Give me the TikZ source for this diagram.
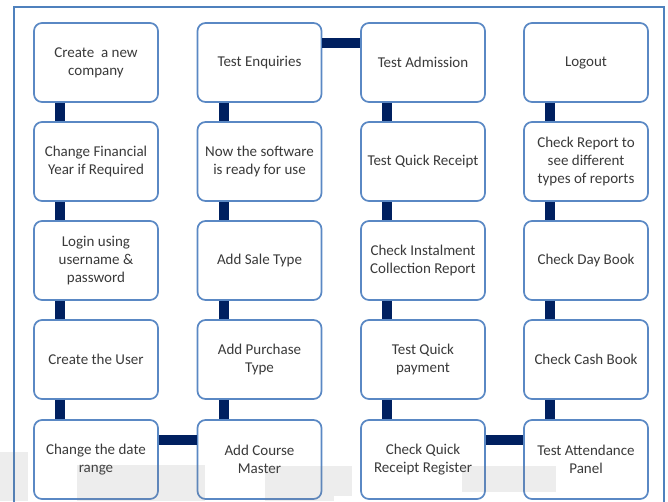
\documentclass[tikz,border=0pt]{standalone}
\usepackage{fontspec}
\setmainfont{Carlito}
\definecolor{navy}{RGB}{0,32,96}
\definecolor{boxline}{RGB}{90,136,196}
\definecolor{frameline}{RGB}{79,129,189}
\definecolor{txt}{RGB}{58,58,58}
\begin{document}
\begin{tikzpicture}[x=1pt,y=-1pt,
  stepbox/.style={draw=boxline, line width=1.7pt, fill=white, rounded corners=8pt,
    minimum width=124pt, minimum height=79pt, inner sep=2pt, align=center,
    text=txt, font=\fontsize{15}{18}\selectfont},
  conn/.style={draw=navy, line width=10pt},
  ghost/.style={fill=gray, fill opacity=0.14, draw=none}]
\useasboundingbox (0,0) rectangle (668,501);
\fill[white] (0,0) rectangle (668,501);
\begin{scope}
\clip (0,0) rectangle (668,501);
\draw[frameline, line width=1.5pt] (14,7) rectangle (664,520);
\end{scope}
% column 1
\node[stepbox] (a1) at (96,62.5) {Create\ \ a new\\company};
\node[stepbox] (a2) at (96,161.5) {Change Financial\\Year if Required};
\node[stepbox] (a3) at (96,260.5) {Login using\\username \&\\password};
\node[stepbox] (a4) at (96,359.5) {Create the User};
\node[stepbox] (a5) at (96,459.5) {Change the date\\range};
% column 2
\node[stepbox] (b1) at (259.5,62.5) {Test Enquiries};
\node[stepbox] (b2) at (259.5,161.5) {Now the software\\is ready for use};
\node[stepbox] (b3) at (259.5,260.5) {Add Sale Type};
\node[stepbox] (b4) at (259.5,359.5) {Add Purchase\\Type};
\node[stepbox] (b5) at (259.5,459.5) {Add Course\\Master};
% column 3
\node[stepbox] (c1) at (423,62.5) {Test Admission};
\node[stepbox] (c2) at (423,161.5) {Test Quick Receipt};
\node[stepbox] (c3) at (423,260.5) {Check Instalment\\Collection Report};
\node[stepbox] (c4) at (423,359.5) {Test Quick\\payment};
\node[stepbox] (c5) at (423,459.5) {Check Quick\\Receipt Register};
% column 4
\node[stepbox] (d1) at (586,62.5) {Logout};
\node[stepbox] (d2) at (586,161.5) {Check Report to\\see different\\types of reports};
\node[stepbox] (d3) at (586,260.5) {Check Day Book};
\node[stepbox] (d4) at (586,359.5) {Check Cash Book};
\node[stepbox] (d5) at (586,459.5) {Test Attendance\\Panel};
% vertical connectors
\foreach \c in {a,b,c,d}{
  \foreach \i/\j in {1/2,2/3,3/4,4/5}{
    \draw[conn] ([xshift=-36pt]\c\i.south) -- ([xshift=-36pt]\c\j.north);
  }
}
% horizontal connectors
\draw[conn] ([yshift=19.5pt]b1.east) -- ([yshift=19.5pt]c1.west);
\draw[conn] ([yshift=19.5pt]a5.east) -- ([yshift=19.5pt]b5.west);
\draw[conn] ([yshift=19.5pt]c5.east) -- ([yshift=19.5pt]d5.west);
% faint watermark bands at the bottom
\fill[ghost] (0,452) rectangle (28,501);
\fill[ghost] (77,465) rectangle (205,501);
\fill[ghost] (265,466) rectangle (334,501);
\fill[ghost] (334,466) rectangle (352,496);
\fill[ghost] (462,466) rectangle (556,492);
\end{tikzpicture}
\end{document}
